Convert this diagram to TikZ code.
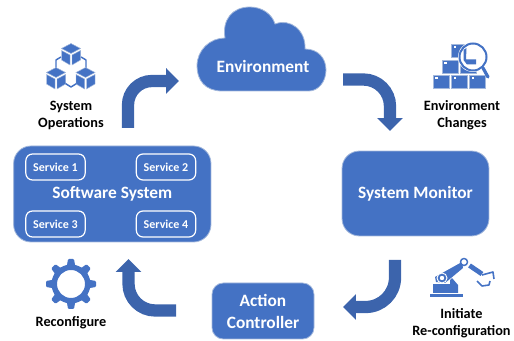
\documentclass[tikz,border=0pt]{standalone}
\usepackage{fontspec}
\setmainfont{Carlito}[BoldFont={Carlito Bold}]
\usetikzlibrary{arrows.meta}
\definecolor{blu}{HTML}{4472C4}
\definecolor{edge}{HTML}{A3B8DC}
\definecolor{arrowc}{HTML}{3C64AC}
\tikzset{
  box/.style={fill=blu,draw=edge,line width=.6pt,text=white,font=\bfseries\fontsize{13}{16.5}\selectfont,align=center,inner sep=0pt},
  svc/.style={draw=white,line width=.9pt,rounded corners=5pt,minimum width=44.5pt,minimum height=19.5pt,text=white,inner sep=0pt,font=\bfseries\fontsize{9}{11}\selectfont},
  lab/.style={text=black,align=center,inner sep=0pt,font=\bfseries\fontsize{10.7}{12.75}\selectfont},
  flow/.style={draw=arrowc,line width=9.2pt,-{Triangle[length=9.7pt,width=18.8pt]}},
  ic/.style={fill=blu,draw=edge,line width=.35pt},
  wire/.style={draw=blu,line width=1.1pt},
  cubeicon/.pic={
    \path[ic] (0,-10.5)--(9.5,-5.5)--(0,-.5)--(-9.5,-5.5)--cycle;
    \path[ic] (-9.5,-3.5)--(-1,1)--(-1,11)--(-9.5,6)--cycle;
    \path[ic] (9.5,-3.5)--(1,1)--(1,11)--(9.5,6)--cycle;
  },
  crate/.pic={
    \path[ic] (0,0) rectangle (16,13.5);
    \fill[white] (2,2) rectangle (4.5,4.5);
  }
}
\begin{document}
\begin{tikzpicture}[x=.75pt,y=-.75pt]
\useasboundingbox (0,0) rectangle (514,341);
% cloud
\path[fill=blu,draw=edge,line width=.6pt] (222,91) .. controls (205,91) and (197,80) .. (197,66)
  .. controls (197,50) and (210,38) .. (225,38)
  .. controls (222,20) and (232,7) .. (250,7)
  .. controls (262,7) and (272,14) .. (275,24)
  .. controls (290,18) and (306,30) .. (305,49)
  .. controls (318,49) and (326,58) .. (326,70)
  .. controls (326,82) and (318,91) .. (309,91) -- cycle;
\node[text=white,inner sep=0pt,font=\bfseries\fontsize{13}{16}\selectfont] (env) at (263,66) {Environment};
% boxes
\node[box,rounded corners=13pt,minimum width=148pt,minimum height=72pt] (soft) at (112.3,194) {Software System};
\node[svc] (s1) at (55.5,167) {Service 1};
\node[svc] (s2) at (166,167) {Service 2};
\node[svc] (s3) at (55.5,224) {Service 3};
\node[svc] (s4) at (166,224) {Service 4};
\node[box,rounded corners=13pt,minimum width=110.2pt,minimum height=63.7pt] (mon) at (415.5,193.5) {System Monitor};
\node[box,rounded corners=8.5pt,minimum width=76.5pt,minimum height=42pt] (act) at (263,311) {Action\\Controller};
% connectors
\coordinate (a1s) at (128,128); \coordinate (a1e) at (179,81);
\coordinate (a2s) at (343,79.5); \coordinate (a2e) at (390,131);
\coordinate (a3s) at (395,260); \coordinate (a3e) at (343,307);
\coordinate (a4s) at (176,310.5); \coordinate (a4e) at (128.5,259);
\draw[flow,rounded corners=18pt] (a1s) |- (a1e);
\draw[flow,rounded corners=20pt] (a2s) -| (a2e);
\draw[flow,rounded corners=22pt] (a3s) |- (a3e);
\draw[flow,rounded corners=20pt] (a4s) -| (a4e);
% labels
\node[lab] (l1) at (71,115) {System\\Operations};
\node[lab] (l2) at (462,115) {Environment\\Changes};
\node[lab] (l3) at (71,323) {Reconfigure};
\node[lab] (l4) at (461.5,323) {Initiate\\Re-configuration};
% cubes icon
\draw[wire,line join=round] (61,57)--(56,60)--(56,68);
\draw[wire,line join=round] (81,57)--(86,60)--(86,68);
\draw[wire,line join=round] (63,82)--(71,87)--(79,82);
\pic at (71,54) {cubeicon};
\pic at (56,78) {cubeicon};
\pic at (85.5,78) {cubeicon};
% crates and magnifier
\pic at (433,75) {crate};
\pic at (451.5,75) {crate};
\pic at (469.5,75) {crate};
\pic at (442,60) {crate};
\pic at (460,60) {crate};
\pic at (451.5,44) {crate};
\fill[white] (473,57) circle[radius=15];
\fill[white] (481,66)--(487,60)--(495,76)--(489,82)--cycle;
\draw[blu,line width=1.5pt] (473,57) circle[radius=13.5];
\draw[blu,line width=2.4pt,line cap=round] (483,68)--(488,77);
\fill[blu] (463.5,50)--(466.5,48)--(466,59.5)--(476,59.5)--(476,64.5)--(467,64.5)--(463.5,60)--cycle;
% gear
\foreach \a in {0,45,...,315}{
  \fill[blu,rotate around={\a:(71,284)},rounded corners=.8pt] (68,259)--(74,259)--(75.5,268)--(66.5,268)--cycle;
}
\path[fill=blu,even odd rule] (71,284) circle[radius=19.5] (71,284) circle[radius=14];
% robot
\fill[blu] (430,294) rectangle (463,297);
\fill[blu] (433,293)--(433,282)--(447,283)--(452,278)--(458,285)--(458,293)--cycle;
\fill[white] (431,280) rectangle (450,284);
\fill[blu] (436,282) -- (435,277) -- (462,262) -- (463,268) -- (445,283)--cycle;
\draw[white,line width=.7pt,fill=blu] (442,278) circle[radius=5];
\fill[white] (442,278) circle[radius=2.2];
\draw[blu,line width=1.1pt,fill=white] (464,262) circle[radius=3.5];
\draw[blu,line width=3.6pt] (469.5,265.5)--(482,274);
\draw[blu,line width=1.2pt,line join=round] (477,281)--(482,286)--(489,285)--(490,281);
\draw[blu,line width=1.2pt,line join=round] (482,275)--(493,272)--(494,279);
\end{tikzpicture}
\end{document}
